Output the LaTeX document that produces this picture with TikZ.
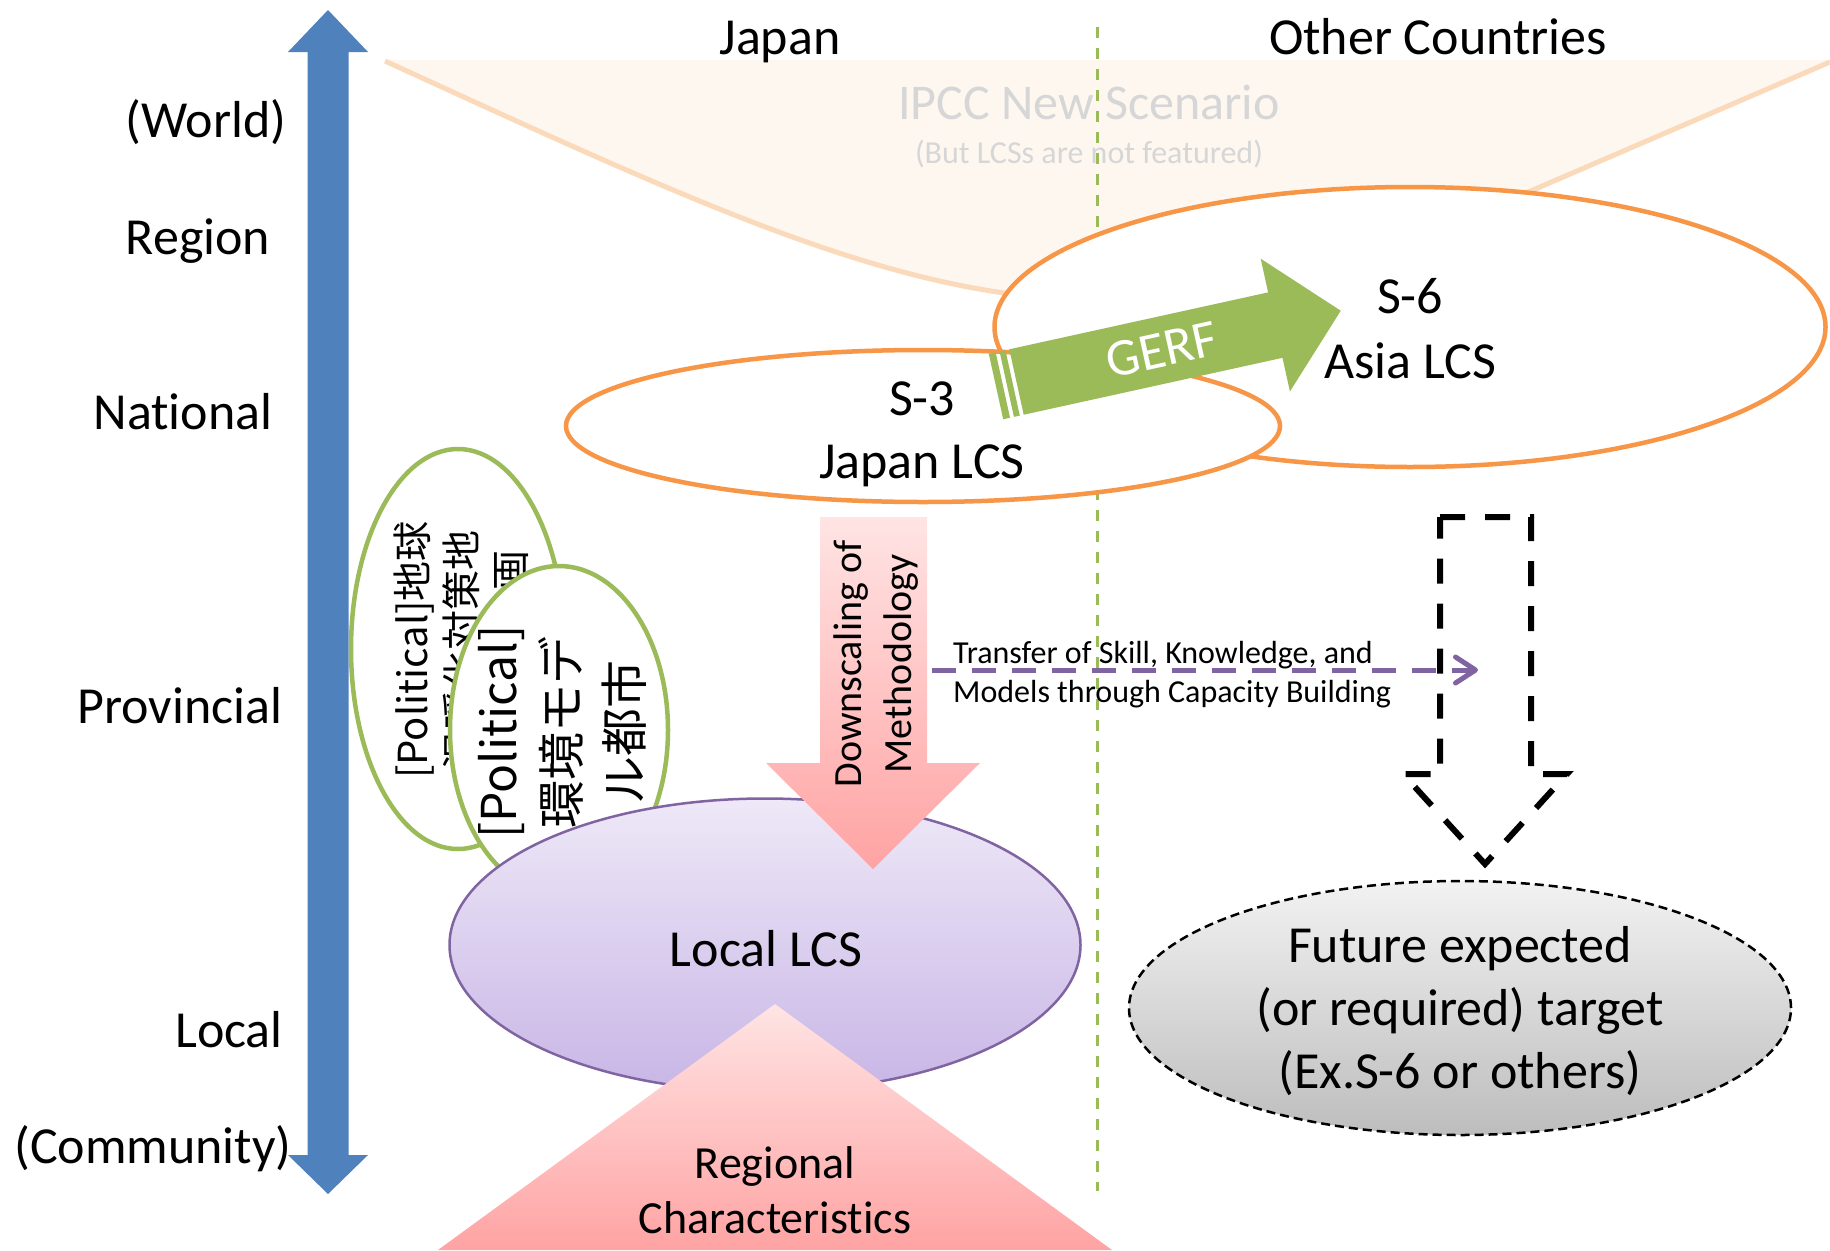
\documentclass[tikz,border=0pt]{standalone}
\usepackage{fontspec}
\setmainfont{Carlito}[Ligatures=NoCommon]
\newfontfamily\jpfont{Noto Sans CJK JP}
\usetikzlibrary{shapes.geometric,arrows.meta}
\newcommand\setsz[2]{\fontsize{#1}{#2}\selectfont}

\definecolor{axisblue}{HTML}{4F81BD}
\definecolor{lcsorange}{HTML}{F79646}
\definecolor{polgreen}{HTML}{9BBB59}
\definecolor{lcspurple}{HTML}{8064A2}
\definecolor{ipccfill}{HTML}{FDF7F0}
\definecolor{ipccline}{HTML}{FBD9BB}
\definecolor{ipcctext}{HTML}{D6D6D6}
\definecolor{pinktop}{HTML}{FFE4E4}
\definecolor{pinkbot}{HTML}{FFA3A3}
\definecolor{lavtop}{HTML}{EEE8F7}
\definecolor{lavbot}{HTML}{C8B6E6}
\definecolor{greytop}{HTML}{F2F2F2}
\definecolor{greybot}{HTML}{BDBDBD}

\begin{document}
\begin{tikzpicture}[x=1pt,y=-1pt,
  scalelbl/.style={font=\setsz{52}{62}, inner sep=0pt, anchor=base},
  bigtxt/.style={font=\setsz{52}{63}, inner sep=0pt, align=center},
  lcsring/.style={ellipse, draw=lcsorange, line width=4.5pt, fill=white, inner sep=0pt},
  polring/.style={ellipse, draw=polgreen, line width=4.5pt, fill=white, inner sep=0pt},
  pinkshade/.style={top color=pinktop, bottom color=pinkbot, draw=none}]

\useasboundingbox (0,0) rectangle (1830,1250);
\fill[white] (0,0) rectangle (1830,1250);

% global scenario funnel
\fill[ipccfill] (385,60) -- (1830,60) -- (1830,62) -- (1533,190)
  .. controls (1400,245) and (1250,300) .. (1100,300)
  .. controls (900,300) and (700,205) .. (385,61) -- cycle;
\draw[ipccline, line width=5pt] (385,61) .. controls (700,205) and (900,300) .. (1100,300)
  .. controls (1250,300) and (1400,245) .. (1533,190) -- (1830,62);
\node[font=\setsz{50}{60}, text=ipcctext, inner sep=0pt, anchor=base] (ipcc) at (1089,119) {IPCC New Scenario};
\node[font=\setsz{32}{38}, text=ipcctext, inner sep=0pt, anchor=base] (ipcc-note) at (1089,163) {(But LCSs are not featured)};

% Japan / other countries divider
\coordinate (div-top) at (1097,27);
\coordinate (div-bot) at (1097,1191);
\draw[polgreen, line width=3pt, dash pattern=on 11pt off 10pt] (div-top) -- (div-bot);

\node[scalelbl] (hdr-jp) at (780,54) {Japan};
\node[scalelbl] (hdr-other) at (1438,54) {Other Countries};

% scale axis
\fill[axisblue] (328,10) -- (368,52) -- (348.5,52) -- (348.5,1155) -- (368,1155) -- (328,1194)
  -- (288,1155) -- (307.5,1155) -- (307.5,52) -- (288,52) -- cycle;
\node[scalelbl] (lv-world) at (206,137) {(World)};
\node[scalelbl] (lv-region) at (198,254) {Region};
\node[scalelbl] (lv-national) at (183,429) {National};
\node[scalelbl] (lv-prov) at (180,723) {Provincial};
\node[scalelbl] (lv-local) at (229,1047) {Local};
\node[scalelbl] (lv-comm) at (153,1163) {(Community)};

% LCS studies
\node[lcsring, minimum width=831pt, minimum height=280pt] (s6) at (1410,327) {};
\node[lcsring, minimum width=714pt, minimum height=152pt] (s3) at (923,426) {};

% GERF striped arrow
\begin{scope}[shift={(1016.5,382)}, rotate=12.4]
  \fill[polgreen] (0,-33.5) -- (265,-33.5) -- (265,-68) -- (332,0) -- (265,68) -- (265,33.5) -- (0,33.5) -- cycle;
  \fill[polgreen] (-10,-33.5) rectangle (-4,33.5);
  \fill[polgreen] (-21,-33.5) rectangle (-14,33.5);
  \node[rotate=12.4, text=white, font=\setsz{53}{62}, inner sep=0pt] (gerf) at (149,0) {GERF};
\end{scope}

\node[bigtxt] (s3-txt) at (922,434) {S-3\\Japan LCS};
\node[bigtxt, font=\setsz{52}{65}] (s6-txt) at (1410,329) {S-6\\Asia LCS};

% policy plans
\node[polring, minimum width=214pt, minimum height=400pt] (pol-a) at (458,649) {};
\node[rotate=90, align=center, inner sep=0pt, font={\jpfont\setsz{40}{49}}] (pol-a-txt) at (461,650)
  {[Political]地球\\温暖化対策地\\域推進計画};
\node[polring, minimum width=218pt, minimum height=328pt] (pol-b) at (559,730) {};
\node[rotate=90, align=center, inner sep=0pt, font={\jpfont\setsz{48}{63}}] (pol-b-txt) at (562,732)
  {[Political]\\環境モデ\\ル都市};

% local LCS
\node[ellipse, draw=lcspurple, line width=2.5pt, top color=lavtop, bottom color=lavbot,
  minimum width=631pt, minimum height=293pt, inner sep=0pt] (local) at (765,945) {};
\node[scalelbl] (local-txt) at (766,966) {Local LCS};

% downscaling arrow
\path[pinkshade] (820,517) -- (927,517) -- (927,763) -- (980,763) -- (873,869) -- (766,763) -- (820,763) -- cycle;
\node[rotate=90, align=center, inner sep=0pt, font=\setsz{40}{50}] (down-txt) at (876,664)
  {Downscaling of\\Methodology};

% regional characteristics
\path[pinkshade] (775,1004) -- (1112,1250) -- (438,1250) -- cycle;
\node[align=center, inner sep=0pt, font=\setsz{46}{55}] (region-txt) at (775,1190)
  {Regional\\Characteristics};

% expected transfer to other countries
\draw[black, line width=6pt, dash pattern=on 25pt off 20pt] (1440,517) -- (1531,517) -- (1531,774)
  -- (1567,774) -- (1485,864) -- (1403,774) -- (1440,774) -- cycle;

\coordinate (xfer-start) at (932,670);
\coordinate (xfer-end) at (1478,670);
\draw[lcspurple, line width=5pt, dash pattern=on 24pt off 16pt,
  -{Straight Barb[length=20pt, width=26pt, round]}] (xfer-start) -- (xfer-end);
\node[anchor=west, align=left, inner sep=0pt, font=\setsz{32}{39}] (xfer-txt) at (953,675)
  {Transfer of Skill, Knowledge, and\\Models through Capacity Building};

\node[ellipse, draw=black, line width=2.5pt, dash pattern=on 9pt off 5pt, top color=greytop, bottom color=greybot,
  minimum width=662pt, minimum height=254pt, inner sep=0pt] (future) at (1460,1008) {};
\node[bigtxt] (future-txt) at (1460,1011) {Future expected\\(or required) target\\(Ex.S-6 or others)};

\end{tikzpicture}
\end{document}
